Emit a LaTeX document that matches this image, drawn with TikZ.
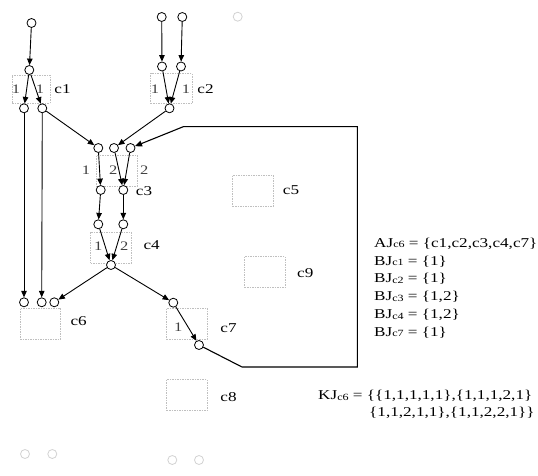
\documentclass[tikz,border=0pt]{standalone}
\usepackage{fontspec}
\setmainfont{Liberation Serif}
\usetikzlibrary{arrows.meta}
\newcommand\sx[1]{\scalebox{1.27}[1]{#1}}
\newcommand\sbs[1]{\raisebox{-0.8pt}{\fontsize{9.5}{10}\selectfont #1}}
\begin{document}
\begin{tikzpicture}[x=1pt,y=-1pt,
 pt/.style={circle,draw,line width=0.8pt,inner sep=0pt,minimum size=9pt,fill=white},
 ghost/.style={circle,draw=gray!35,line width=0.8pt,inner sep=0pt,minimum size=9pt},
 cbox/.style={draw=gray!50,dash pattern=on 1.5pt off 1pt,line width=0.5pt,minimum width=40.6pt,minimum height=31pt,inner sep=0pt},
 lab/.style={font=\fontsize{13.5}{15}\selectfont,inner sep=0pt},
 num/.style={font=\fontsize{13}{15}\selectfont,inner sep=0pt,text=black!75},
 arr/.style={-{Triangle[length=6.5pt,width=5.5pt]},line width=0.9pt},
 fb/.style={-{Triangle[length=7pt,width=6pt]},line width=1.1pt},
 txt/.style={font=\fontsize{13.5}{15}\selectfont,inner sep=0pt,anchor=base west}]
\useasboundingbox (0,0) rectangle (538,476);
% boxes
\node[cbox,minimum width=37.5pt,minimum height=28.5pt] (c1b) at (31.2,89.2) {};
\node[cbox,minimum width=41.6pt,minimum height=30pt] (c2b) at (171.5,88.5) {};
\node[cbox] (c3b) at (117,170.8) {};
\node[cbox] (c4b) at (110.8,247.5) {};
\node[cbox] (c5b) at (253,190.8) {};
\node[cbox] (c9b) at (265,272) {};
\node[cbox] (c6b) at (40.3,323.8) {};
\node[cbox] (c7b) at (187,323.8) {};
\node[cbox] (c8b) at (187,395) {};
% box labels
\node[lab] (l1) at (62.5,89) {\sx{c1}};
\node[lab] (l2) at (205.5,89) {\sx{c2}};
\node[lab] (l3) at (144,191) {\sx{c3}};
\node[lab] (l4) at (151.7,245) {\sx{c4}};
\node[lab] (l5) at (291,190) {\sx{c5}};
\node[lab] (l9) at (305.3,273.3) {\sx{c9}};
\node[lab] (l6) at (78.7,320.7) {\sx{c6}};
\node[lab] (l7) at (228.5,328.3) {\sx{c7}};
\node[lab] (l8) at (228.5,396.7) {\sx{c8}};
% small numbers
\node[num] (n11) at (16,89) {\sx{1}};
\node[num] (n12) at (40,89) {\sx{1}};
\node[num] (n21) at (155,89.5) {\sx{1}};
\node[num] (n22) at (186,89.5) {\sx{1}};
\node[num] (n31) at (86,170) {\sx{1}};
\node[num] (n32) at (113.3,170) {\sx{2}};
\node[num] (n33) at (144.3,170) {\sx{2}};
\node[num] (n41) at (98.3,246) {\sx{1}};
\node[num] (n42) at (124.3,246) {\sx{2}};
\node[num] (n71) at (178.3,327.3) {\sx{1}};
% circles
\node[pt] (a1) at (31.5,23) {};
\node[pt] (a2) at (29.3,70) {};
\node[pt] (a3) at (24,108.3) {};
\node[pt] (a4) at (42.3,108.3) {};
\node[pt] (b1) at (161.7,17) {};
\node[pt] (b2) at (182.3,17) {};
\node[pt] (b3) at (162,66.5) {};
\node[pt] (b4) at (181,66.5) {};
\node[pt] (b5) at (169.5,108.3) {};
\node[pt] (d1) at (98.3,148) {};
\node[pt] (d2) at (114,148) {};
\node[pt] (d3) at (130.5,148) {};
\node[pt] (d4) at (100.7,190) {};
\node[pt] (d5) at (123.3,190) {};
\node[pt] (e1) at (98.3,224.3) {};
\node[pt] (e2) at (123.3,224.3) {};
\node[pt] (e3) at (111,265) {};
\node[pt] (f1) at (24,302.3) {};
\node[pt] (f2) at (41.7,302.3) {};
\node[pt] (f3) at (54.3,302.3) {};
\node[pt] (g1) at (173.3,302.7) {};
\node[pt] (g2) at (199,345) {};
\node[ghost] (h1) at (237.7,16.7) {};
\node[ghost] (h2) at (25,454) {};
\node[ghost] (h3) at (52.3,454) {};
\node[ghost] (h4) at (172.3,460) {};
\node[ghost] (h5) at (199,460) {};
% arrows
\draw[arr] (a1) -- (a2);
\draw[arr] (a2) -- (a3);
\draw[arr] (a2) -- (a4);
\draw[arr] (a4) -- (d1);
\draw[arr] (a3) -- (f1);
\draw[arr] (a4) -- (f2);
\draw[arr] (b1) -- (b3);
\draw[arr] (b2) -- (b4);
\draw[arr] (b3) -- (b5);
\draw[arr] (b4) -- (b5);
\draw[arr] (b5) -- (d2);
\draw[arr] (d1) -- (d4);
\draw[arr] (d2) -- (d5);
\draw[arr] (d3) -- (d5);
\draw[arr] (d4) -- (e1);
\draw[arr] (d5) -- (e2);
\draw[arr] (e1) -- (e3);
\draw[arr] (e2) -- (e3);
\draw[arr] (e3) -- (f3);
\draw[arr] (e3) -- (g1);
\draw[arr] (g1) -- (g2);
% feedback loop
\coordinate (k1) at (242,367);
\coordinate (k2) at (357.3,367);
\coordinate (k3) at (357.3,126.7);
\coordinate (k4) at (183.3,126.7);
\draw[fb] (g2) -- (k1) -- (k2) -- (k3) -- (k4) -- (d3);
% text block
\node[txt] (t1) at (374,247) {\sx{AJ\sbs{c6} = \{c1,c2,c3,c4,c7\}}};
\node[txt] (t2) at (374,265) {\sx{BJ\sbs{c1} = \{1\}}};
\node[txt] (t3) at (374,282.5) {\sx{BJ\sbs{c2} = \{1\}}};
\node[txt] (t4) at (374,300.5) {\sx{BJ\sbs{c3} = \{1,2\}}};
\node[txt] (t5) at (374,318.5) {\sx{BJ\sbs{c4} = \{1,2\}}};
\node[txt] (t6) at (374,336) {\sx{BJ\sbs{c7} = \{1\}}};
\node[txt] (t7) at (318,399.5) {\sx{KJ\sbs{c6} = \{\{1,1,1,1,1\},\{1,1,1,2,1\}}};
\node[txt] (t8) at (369,416.5) {\sx{\{1,1,2,1,1\},\{1,1,2,2,1\}\}}};
\end{tikzpicture}
\end{document}
